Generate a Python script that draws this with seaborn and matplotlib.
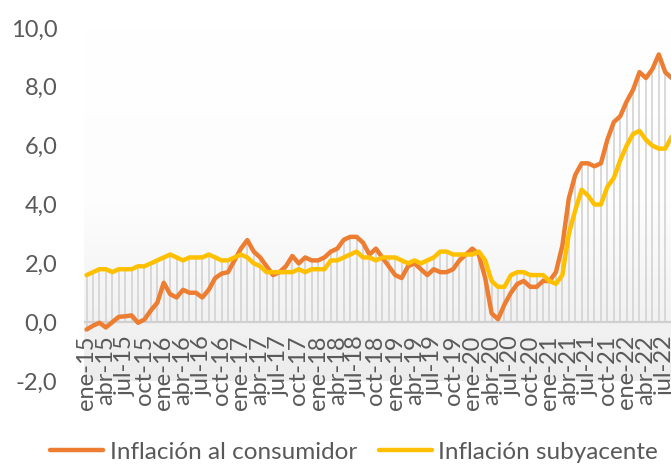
import numpy as np
import pandas as pd
import matplotlib
matplotlib.use("Agg")
import matplotlib.pyplot as plt
from matplotlib.colors import LinearSegmentedColormap
from matplotlib.lines import Line2D
import seaborn as sns

# ===== Data (variación anual, %) =====
meses = ["ene", "feb", "mar", "abr", "may", "jun", "jul", "ago", "sep", "oct", "nov", "dic"]
anios = range(15, 23)

inflacion_consumidor = [
    -0.25, -0.12, -0.02, -0.18, 0.0, 0.18, 0.2, 0.23, -0.02, 0.09, 0.4, 0.66,   # 2015
    1.34, 0.95, 0.84, 1.1, 1.0, 1.0, 0.84, 1.1, 1.5, 1.65, 1.7, 2.1,            # 2016
    2.5, 2.79, 2.4, 2.2, 1.9, 1.6, 1.7, 1.9, 2.25, 2.0, 2.2, 2.1,               # 2017
    2.1, 2.2, 2.4, 2.5, 2.8, 2.9, 2.9, 2.7, 2.3, 2.5, 2.2, 1.9,                 # 2018
    1.6, 1.5, 1.9, 2.0, 1.8, 1.6, 1.8, 1.7, 1.7, 1.8, 2.1, 2.3,                 # 2019
    2.5, 2.3, 1.5, 0.3, 0.1, 0.6, 1.0, 1.3, 1.4, 1.2, 1.2, 1.4,                 # 2020
    1.4, 1.7, 2.6, 4.2, 5.0, 5.4, 5.4, 5.3, 5.4, 6.2, 6.8, 7.0,                 # 2021
    7.5, 7.9, 8.5, 8.3, 8.6, 9.1, 8.5, 8.3, 8.2,                                # 2022
]
inflacion_subyacente = [
    1.6, 1.7, 1.8, 1.8, 1.7, 1.8, 1.8, 1.8, 1.9, 1.9, 2.0, 2.1,
    2.2, 2.3, 2.2, 2.1, 2.2, 2.2, 2.2, 2.3, 2.2, 2.1, 2.1, 2.2,
    2.3, 2.2, 2.0, 1.9, 1.7, 1.7, 1.7, 1.7, 1.7, 1.8, 1.7, 1.8,
    1.8, 1.8, 2.1, 2.1, 2.2, 2.3, 2.4, 2.2, 2.2, 2.1, 2.2, 2.2,
    2.2, 2.1, 2.0, 2.1, 2.0, 2.1, 2.2, 2.4, 2.4, 2.3, 2.3, 2.3,
    2.3, 2.4, 2.1, 1.4, 1.2, 1.2, 1.6, 1.7, 1.7, 1.6, 1.6, 1.6,
    1.4, 1.3, 1.6, 3.0, 3.8, 4.5, 4.3, 4.0, 4.0, 4.6, 4.9, 5.5,
    6.0, 6.4, 6.5, 6.2, 6.0, 5.9, 5.9, 6.3, 6.6,
]
fechas = [f"{m}-{a}" for a in anios for m in meses][:len(inflacion_consumidor)]

yticks = [-2, 0, 2, 4, 6, 8, 10]
ytick_labels = ["-2,0", "0,0", "2,0", "4,0", "6,0", "8,0", "10,0"]
series = ["Inflación al consumidor", "Inflación subyacente"]
colores = ["#ED7D31", "#FFC000"]
gris_texto = "#595959"

sns.set_theme(style="white")
plt.rcParams["font.family"] = ["Lato", "DejaVu Sans"]

n = len(inflacion_consumidor)
df = pd.DataFrame({
    "mes": np.arange(n),
    series[0]: inflacion_consumidor,
    series[1]: inflacion_subyacente,
}).melt(id_vars="mes", var_name="serie", value_name="valor")

W, H = 671, 466
fig = plt.figure(figsize=(W / 100, H / 100), dpi=100)
ax = fig.add_axes([84 / W, 85 / H, 587 / W, 353 / H])

x0, x1 = -0.4, 90.9
ax.set_xlim(x0, x1)
ax.set_ylim(-2, 10)

# fondo degradado
cmap = LinearSegmentedColormap.from_list("fondo", ["#ffffff", "#fdfdfd", "#ececec"])
ax.imshow(np.linspace(0, 1, 256).reshape(-1, 1), extent=[x0, x1, -2, 10],
          aspect="auto", cmap=cmap, origin="upper", zorder=0)

# líneas de referencia verticales (drop lines)
cpi = np.array(inflacion_consumidor)
core = np.array(inflacion_subyacente)
ax.vlines(np.arange(n), np.minimum(0, np.minimum(cpi, core)), np.maximum(0, np.maximum(cpi, core)),
          color="#d3d3d3", lw=1.2, zorder=1)
ax.axhline(0, color="#d0d0d0", lw=1.6, zorder=1)

sns.lineplot(data=df, x="mes", y="valor", hue="serie", hue_order=series,
             palette=dict(zip(series, colores)), linewidth=3.2, ax=ax,
             legend=False, zorder=3)

for s in ax.spines.values():
    s.set_visible(False)
ax.set_xlabel("")
ax.set_ylabel("")

ticks = list(range(0, n, 3))
ax.set_xticks(ticks, [fechas[i] for i in ticks], rotation=90)
ax.tick_params(axis="x", length=0, pad=-33, labelsize=17, labelcolor=gris_texto)
ax.set_yticks(yticks, ytick_labels)
ax.tick_params(axis="y", length=0, pad=19, labelsize=17, labelcolor=gris_texto)

handles = [Line2D([], [], color=c, lw=3.2) for c in colores]
fig.legend(handles, series, loc="center", bbox_to_anchor=(354 / W, 1 - 452 / H),
           ncol=2, frameon=False, fontsize=17.5, handlelength=2.2,
           handletextpad=0.25, columnspacing=0.9, labelcolor=gris_texto)

fig.savefig("out.png", dpi=100)
